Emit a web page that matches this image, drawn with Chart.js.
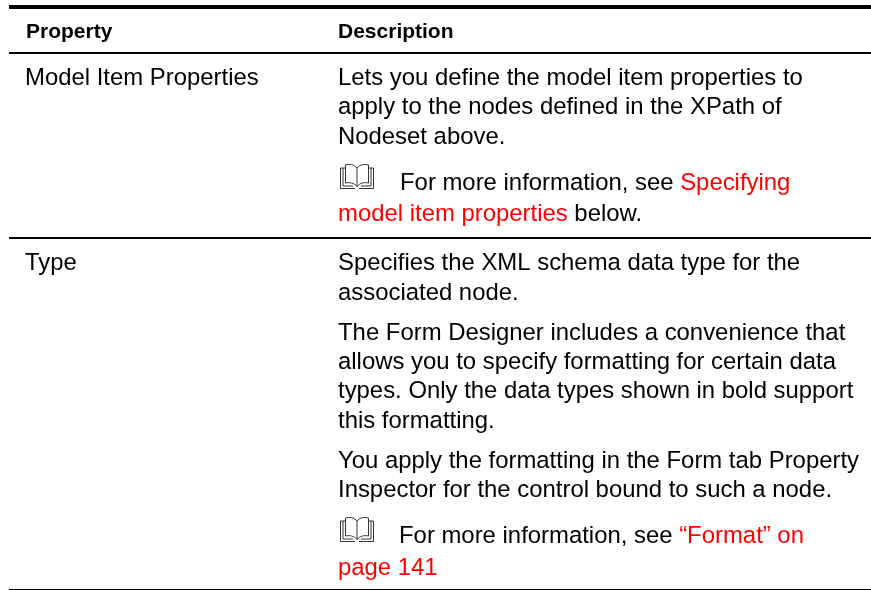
<!DOCTYPE html>
<html>
<head>
<meta charset="utf-8">
<style>html,body{margin:0;padding:0;background:#fff}canvas{display:block}</style>
<script src="https://cdn.jsdelivr.net/npm/chart.js@4"></script>
</head>
<body>
<canvas id="c" width="871" height="590"></canvas>
<script>
const headers = ["Property", "Description"];
const propertyNames = ["Model Item Properties", "Type"];
const descriptionLines = [
  [["Lets you define the model item properties to", 0]],
  [["apply to the nodes defined in the XPath of", 0]],
  [["Nodeset above.", 0]],
  [["For more information, see ", 0], ["Specifying", 1]],
  [["model item properties", 1], [" below.", 0]],
  [["Specifies the XML schema data type for the", 0]],
  [["associated node.", 0]],
  [["The Form Designer includes a convenience that", 0]],
  [["allows you to specify formatting for certain data", 0]],
  [["types. Only the data types shown in bold support", 0]],
  [["this formatting.", 0]],
  [["You apply the formatting in the Form tab Property", 0]],
  [["Inspector for the control bound to such a node.", 0]],
  [["For more information, see ", 0], ["\u201cFormat\u201d on", 1]],
  [["page 141", 1]]
];
const descriptionBaselines = [85,114,144,190,221,270,300,340,369,398,428,468,497,543,575];
const descriptionIndent = [0,0,0,62,0,0,0,0,0,0,0,0,0,61,0];
const propertyBaselines = [85,270];
const headerBaseline = 38;
const ruleRows = [7, 53, 238, 589.5];
const ruleWeights = [4, 2, 2, 1];
const bookRows = [190, 543];

const FONT = 'Liberation Sans, Arial, sans-serif';
const tablePlugin = {
  id: 'tableText',
  afterDatasetsDraw(chart) {
    const {ctx, scales:{x, y}} = chart;
    ctx.save();
    ctx.textBaseline = 'alphabetic';
    ctx.textAlign = 'left';
    const X = v => x.getPixelForValue(v), Y = v => y.getPixelForValue(v);
    ctx.fillStyle = '#000';
    ctx.font = 'bold 21px ' + FONT;
    ctx.fillText(headers[0], X(26), Y(headerBaseline));
    ctx.fillText(headers[1], X(338), Y(headerBaseline));
    ctx.font = '23.9px ' + FONT;
    propertyNames.forEach((t, i) => ctx.fillText(t, X(25), Y(propertyBaselines[i])));
    descriptionLines.forEach((runs, i) => {
      let px = X(338 + descriptionIndent[i]);
      runs.forEach(([t, red]) => {
        ctx.fillStyle = red ? '#ff0000' : '#000';
        ctx.fillText(t, px, Y(descriptionBaselines[i]));
        px += ctx.measureText(t).width;
      });
    });
    bookRows.forEach(r => drawBook(ctx, X(340), Y(r)));
    ctx.restore();
  }
};
function drawBook(ctx, l, b) {
  ctx.save();
  ctx.strokeStyle = '#333';
  ctx.lineWidth = 1;
  ctx.beginPath();
  const top = b - 26, w = 34, mid = l + w / 2;
  // outer covers
  ctx.moveTo(l + 5, top + 4); ctx.lineTo(l + 0.5, top + 4); ctx.lineTo(l + 0.5, b - 1.5); ctx.lineTo(mid - 2, b - 1.5);
  ctx.moveTo(l + w - 5, top + 4); ctx.lineTo(l + w - 0.5, top + 4); ctx.lineTo(l + w - 0.5, b - 1.5); ctx.lineTo(mid + 2, b - 1.5);
  // pages
  ctx.moveTo(mid, top + 4);
  ctx.bezierCurveTo(mid - 3, top, l + 9, top, l + 5.5, top + 1);
  ctx.lineTo(l + 5.5, b - 7);
  ctx.bezierCurveTo(l + 10, b - 8, mid - 3, b - 7, mid, b - 3.5);
  ctx.lineTo(mid, top + 4);
  ctx.bezierCurveTo(mid + 3, top, l + w - 9, top, l + w - 5.5, top + 1);
  ctx.lineTo(l + w - 5.5, b - 7);
  ctx.bezierCurveTo(l + w - 10, b - 8, mid + 3, b - 7, mid, b - 3.5);
  // inner page edges
  ctx.moveTo(l + 3, top + 4); ctx.lineTo(l + 3, b - 4); ctx.lineTo(mid - 4, b - 4);
  ctx.moveTo(l + w - 3, top + 4); ctx.lineTo(l + w - 3, b - 4); ctx.lineTo(mid + 4, b - 4);
  ctx.stroke();
  ctx.restore();
}
new Chart(document.getElementById('c'), {
  type: 'line',
  data: {
    datasets: ruleRows.map((r, i) => ({
      data: [{x: 9, y: r}, {x: 871, y: r}],
      borderColor: '#000',
      borderWidth: ruleWeights[i],
      pointRadius: 0,
      tension: 0
    }))
  },
  options: {
    responsive: false,
    animation: false,
    layout: {padding: 0},
    plugins: {legend: {display: false}, tooltip: {enabled: false}, title: {display: false}},
    scales: {
      x: {type: 'linear', min: 0, max: 871, display: false},
      y: {type: 'linear', min: 0, max: 590, reverse: true, display: false}
    }
  },
  plugins: [tablePlugin]
});
</script>
</body>
</html>
